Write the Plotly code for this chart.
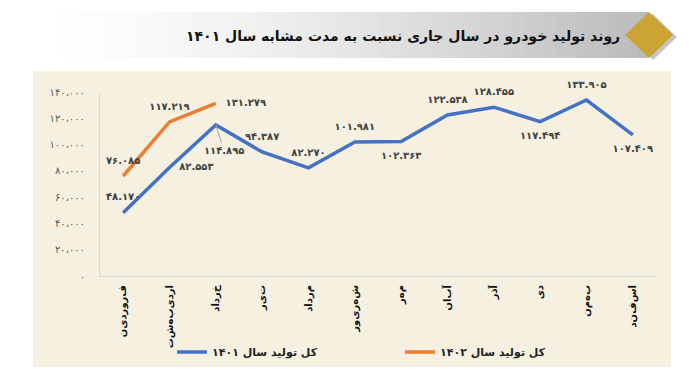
import plotly.graph_objects as go

# ---------------- data ----------------
months = ["فروردین", "اردیبهشت", "خرداد", "تیر", "مرداد", "شهریور",
          "مهر", "آبان", "آذر", "دی", "بهمن", "اسفند"]
prod_1401 = [48170, 82553, 114895, 94387, 82270, 101981,
             102363, 122538, 128455, 117494, 133905, 107409]
prod_1402 = [76085, 117219, 131279]
y_ticks = [0, 20000, 40000, 60000, 80000, 100000, 120000, 140000]
name_1401 = "کل تولید سال ۱۴۰۱"
name_1402 = "کل تولید سال ۱۴۰۲"
title_text = "روند تولید خودرو در سال جاری نسبت به مدت مشابه سال ۱۴۰۱"

FA = str.maketrans("0123456789", "۰۱۲۳۴۵۶۷۸۹")


def fa_num(n, sep):
    return f"{n:,}".replace(",", sep).translate(FA)


W, H = 699, 389
L, R, T, B = 92, 51, 84, 121
PW, PH = W - L - R, H - T - B


def px(x):
    return (x - L) / PW


def py(y):
    return (H - B - y) / PH


FONT = "DejaVu Sans"
BLUE = "#4472C4"
ORANGE = "#ED7D31"

pos_1401 = ["top center", "middle right", "bottom right", "top center", "top center",
            "top center", "bottom center", "top center", "top center", "bottom center",
            "top center", "bottom center"]
pos_1402 = ["top center", "top center", "middle right"]

labels_1401 = [fa_num(v, ".") for v in prod_1401]
leader_idx = 2
labels_1401_trace = [("" if i == leader_idx else t) for i, t in enumerate(labels_1401)]

lab_font = dict(family=FONT, size=10, color="#404040", weight="bold")

fig = go.Figure()
fig.add_trace(go.Scatter(
    x=months, y=prod_1401, name=name_1401, mode="lines+markers+text",
    line=dict(color=BLUE, width=3.5),
    marker=dict(size=14, color="rgba(0,0,0,0)"),
    text=labels_1401_trace, textposition=pos_1401,
    textfont=lab_font, cliponaxis=False, legend="legend",
))
fig.add_trace(go.Scatter(
    x=months[:len(prod_1402)], y=prod_1402, name=name_1402, mode="lines+markers+text",
    line=dict(color=ORANGE, width=3.5),
    marker=dict(size=14, color="rgba(0,0,0,0)"),
    text=[fa_num(v, ".") for v in prod_1402], textposition=pos_1402,
    textfont=lab_font, cliponaxis=False, legend="legend2",
))

# label with leader line
fig.add_annotation(
    x=months[leader_idx], y=prod_1401[leader_idx], text=labels_1401[leader_idx],
    showarrow=True, arrowhead=0, arrowwidth=1, arrowcolor="#A6A6A6",
    ax=8, ay=25, font=lab_font,
)

shapes = []
# beige chart box
shapes.append(dict(type="rect", xref="paper", yref="paper", layer="below",
                   x0=px(25), x1=px(663), y0=py(359), y1=py(63),
                   fillcolor="#F6F0E1", line=dict(width=0)))
# gradient title band
n = 60
x_start, x_end = 20, 640
for i in range(n):
    t = i / (n - 1)
    c = int(round(255 - 68 * t ** 1.5))
    xa = x_start + (x_end - x_start) * i / n
    xb = x_start + (x_end - x_start) * (i + 1) / n + 0.6
    shapes.append(dict(type="rect", xref="paper", yref="paper", layer="below",
                       x0=px(xa), x1=px(xb), y0=py(50), y1=py(4),
                       fillcolor=f"rgb({c},{c},{c})", line=dict(width=0)))
# diamond shadow + diamond
cx, cy, hw, hh = 641, 27, 24, 23


def diamond(cx, cy, hw, hh):
    return (f"M {px(cx - hw)} {py(cy)} L {px(cx)} {py(cy - hh)} "
            f"L {px(cx + hw)} {py(cy)} L {px(cx)} {py(cy + hh)} Z")


shapes.append(dict(type="path", xref="paper", yref="paper", path=diamond(cx + 4, cy + 2, hw, hh),
                   fillcolor="rgba(90,90,90,0.35)", line=dict(width=0)))
shapes.append(dict(type="path", xref="paper", yref="paper", path=diamond(cx, cy, hw, hh),
                   fillcolor="#CBA534", line=dict(width=0)))
# right black strip
shapes.append(dict(type="rect", xref="paper", yref="paper",
                   x0=px(690), x1=px(700), y0=py(390), y1=py(-1),
                   fillcolor="#000000", line=dict(width=0)))
# bottom blue rule
shapes.append(dict(type="line", xref="paper", yref="paper",
                   x0=px(0), x1=px(690), y0=py(387.5), y1=py(387.5),
                   line=dict(color="#2A7FD0", width=2)))

fig.add_annotation(xref="paper", yref="paper", x=px(614), y=py(28),
                   xanchor="right", yanchor="middle", showarrow=False,
                   text=title_text, font=dict(family=FONT, size=14, color="#111111", weight="bold"))

leg_common = dict(orientation="h", xanchor="left", yanchor="middle",
                  font=dict(family=FONT, size=11, color="#222222", weight="bold"),
                  bgcolor="rgba(0,0,0,0)")
fig.update_layout(
    width=W, height=H,
    margin=dict(l=L, r=R, t=T, b=B),
    paper_bgcolor="white", plot_bgcolor="rgba(0,0,0,0)",
    shapes=shapes,
    showlegend=True,
    legend=dict(x=px(164), y=py(344), **leg_common),
    legend2=dict(x=px(392), y=py(344), **leg_common),
    font=dict(family=FONT),
)
fig.update_xaxes(
    type="category", categoryorder="array", categoryarray=months,
    tickvals=months, ticktext=["\u200c".join(m) for m in months],
    tickangle=-90, showgrid=False, showline=True, linecolor="#D9D9D9", linewidth=1,
    ticks="", ticklabelstandoff=4,
    tickfont=dict(family=FONT, size=10, color="#111111", weight="bold"),
    range=[-0.5, len(months) - 0.5],
)
fig.update_yaxes(
    range=[0, 140000], tickvals=y_ticks, ticktext=[fa_num(v, "،") for v in y_ticks],
    showgrid=False, showline=True, linecolor="#D9D9D9", linewidth=1,
    ticks="", ticklabelstandoff=12, zeroline=False,
    tickfont=dict(family=FONT, size=10, color="#595959"),
)

fig.write_html("out.html")
